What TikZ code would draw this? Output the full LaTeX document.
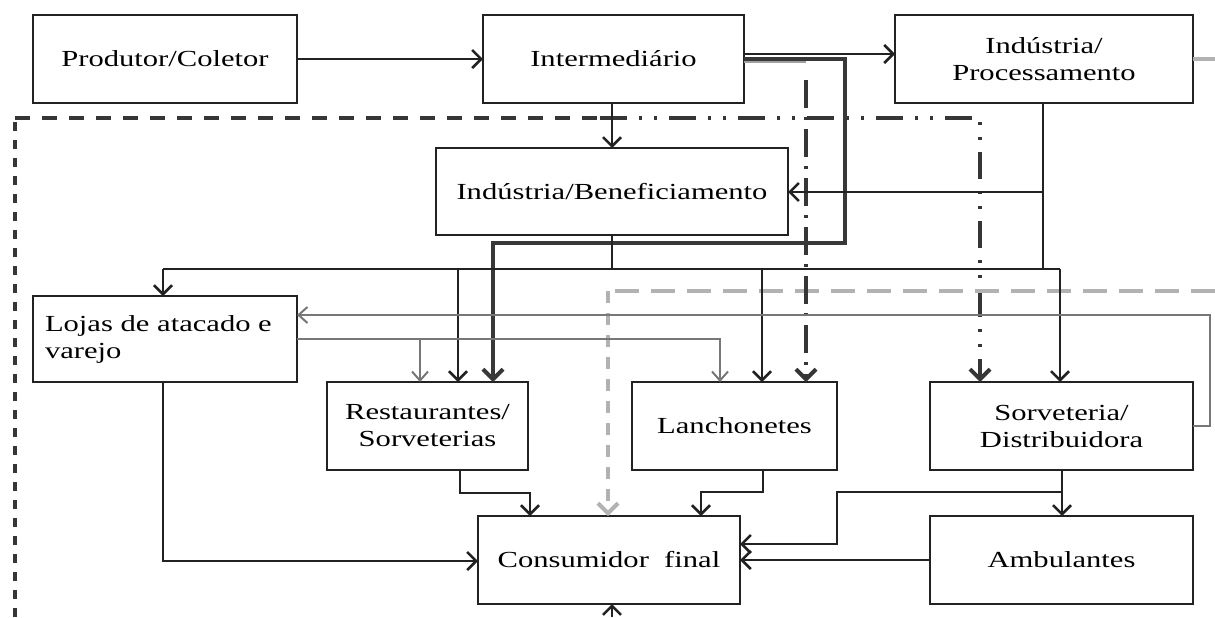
\documentclass[tikz,border=0pt]{standalone}
\usepackage{fontspec}
\setmainfont{Liberation Serif}[FakeStretch=1.33]
\usetikzlibrary{arrows.meta,calc}
\definecolor{ink}{HTML}{222222}
\definecolor{midgray}{HTML}{777777}
\definecolor{lightgray}{HTML}{B2B2B2}
\definecolor{ddgray}{HTML}{363636}
\tikzset{
  box/.style={draw=ink, line width=1.3pt, fill=white, minimum height=44pt, inner sep=2pt, outer sep=0pt, font=\fontsize{11.5}{13.5}\selectfont, align=center, text=black},
  arr/.style={draw=ink, line width=1.3pt, -{Straight Barb[length=4.5pt,width=9pt,line width=1.3pt]}},
  plainln/.style={draw=ink, line width=1.3pt},
  thickarr/.style={draw=ink!90, line width=2pt, -{Straight Barb[length=5pt,width=10pt,line width=2pt]}},
  grayarr/.style={draw=midgray, line width=1pt, -{Straight Barb[length=4.5pt,width=8pt,line width=1pt]}},
  ddash/.style={draw=ddgray, line width=2pt, dash pattern=on 14pt off 4.5pt on 1.5pt off 4.5pt},
  dddot/.style={draw=ddgray, line width=2pt, dash pattern=on 13.5pt off 6pt on 1.5pt off 6pt on 1.5pt off 6pt},
  ddtip/.style={-{Straight Barb[length=5pt,width=10pt,line width=2pt]}},
  blackdashH/.style={draw=ddgray, line width=1.6pt, dash pattern=on 7.5pt off 6pt},
  blackdashV/.style={draw=ddgray, line width=1.6pt, dash pattern=on 4.5pt off 4.5pt},
  lgdashH/.style={draw=lightgray, line width=2pt, dash pattern=on 12pt off 6pt},
  lgdashV/.style={draw=lightgray, line width=2pt, dash pattern=on 6pt off 5pt},
  lgtip/.style={-{Straight Barb[length=5pt,width=10pt,line width=2pt]}},
  faintln/.style={draw=midgray!70, line width=1pt}
}
\begin{document}
\begin{tikzpicture}[x=0.5pt,y=-0.5pt]
\useasboundingbox (0,0) rectangle (1215,617);

% nodes
\node[box, minimum width=132pt] (prod) at (165,59) {Produtor/Coletor};
\node[box, minimum width=130.5pt] (inter) at (613.5,59) {Intermediário};
\node[box, minimum width=149pt] (proc) at (1044,59) {Indústria/\\Processamento};
\node[box, minimum width=176pt, minimum height=43.5pt] (benef) at (612,191.5) {Indústria/Beneficiamento};
\node[box, minimum width=132pt, minimum height=43pt, align=left, text width=120pt, inner xsep=6pt] (lojas) at (165,339) {Lojas de atacado e\\varejo};
\node[box, minimum width=100.5pt] (rest) at (427.5,426) {Restaurantes/\\Sorveterias};
\node[box, minimum width=102.5pt] (lanch) at (734.5,426) {Lanchonetes};
\node[box, minimum width=131.5pt] (sorv) at (1061.5,426) {Sorveteria/\\Distribuidora};
\node[box, minimum width=131pt] (cons) at (609,560) {Consumidor\ \ final};
\node[box, minimum width=131.5pt] (amb) at (1061.5,560) {Ambulantes};

% helper coordinates
\coordinate (c845) at (845,243);
\coordinate (x493) at (493,0);
\coordinate (x806) at (806,62);
\coordinate (x806b) at (806,80);
\coordinate (x980) at (980,118);
\coordinate (xs600) at (600,118);
\coordinate (tl) at (15,118);
\coordinate (bl) at (15,617);
\coordinate (busL) at (163,269);
\coordinate (busR) at (1060,269);
\coordinate (bus) at (612,269);
\coordinate (busA) at (458,269);
\coordinate (busB) at (762,269);
\coordinate (pb) at (1043,192);
\coordinate (pbus) at (1043,269);
\coordinate (g1) at (1210,315);
\coordinate (g2) at (720,339);
\coordinate (g3) at (420,339);
\coordinate (lg1) at (1215,291);
\coordinate (lg2) at (608,291);
\coordinate (b1) at (163,561);
\coordinate (b2) at (460,493);
\coordinate (b3) at (530,493);
\coordinate (b4) at (763,492);
\coordinate (b5) at (701,492);
\coordinate (b6) at (1062,492);
\coordinate (b7) at (837,544);
\coordinate (bot) at (612,617);
\coordinate (stub) at (1215,59);

% big dark dashed frame
\draw[blackdashV] (bl) -- (tl);
\draw[blackdashH] (tl) -- (xs600);
\draw[dddot, ddtip] (xs600) -- (x980) -- (x980 |- sorv.north);

% light gray dashed
\draw[lgdashH] (lg1) -- (lg2);
\draw[lgdashV, lgtip] (lg2) -- (lg2 |- cons.north);
\draw[lgdashH] (proc.east) -- (stub);

% dash-dot from Intermediario to Lanchonetes
\draw[faintln] ([yshift=-1.5pt]inter.east) -- (x806);
\draw[ddash, ddtip] (x806b) -- (x806b |- lanch.north);

% main flows
\draw[arr] (prod) -- (inter);
\draw[arr] ([yshift=2.5pt]inter.east) -- ([yshift=2.5pt]proc.west);
\draw[arr] (inter.south -| benef.north) -- (benef.north);
\draw[thickarr] (inter.east) -| (c845) -| (x493 |- rest.north);

\draw[plainln] (benef.south -| bus) -- (bus);
\draw[plainln] (busL) -- (busR);
\draw[arr] (busL) -- (busL |- lojas.north);
\draw[arr] (busA) -- (busA |- rest.north);
\draw[arr] (busB) -- (busB |- lanch.north);
\draw[arr] (busR) -- (busR |- sorv.north);

\draw[plainln] (proc.south -| pb) -- (pbus);
\draw[arr] (pb) -- (benef.east |- pb);

% gray flows
\draw[grayarr] (sorv.east) -| (g1) -- (lojas.east |- g1);
\draw[grayarr] (lojas.east |- g2) -| (g2 |- lanch.north);
\draw[grayarr] (g3) -- (g3 |- rest.north);

% to consumer
\draw[arr] (lojas.south -| b1) -- (b1) -- (cons.west |- b1);
\draw[arr] (rest.south -| b2) -- (b2) -| (b3 |- cons.north);
\draw[arr] (lanch.south -| b4) -- (b4) -| (b5 |- cons.north);
\draw[arr] (sorv.south -| b6) -- (b6 |- amb.north);
\draw[arr] (b6) -| (b7) -- (cons.east |- b7);
\draw[arr] (amb.west) -- (cons.east);
\draw[arr] (bot) -- (bot |- cons.south);
\end{tikzpicture}
\end{document}
